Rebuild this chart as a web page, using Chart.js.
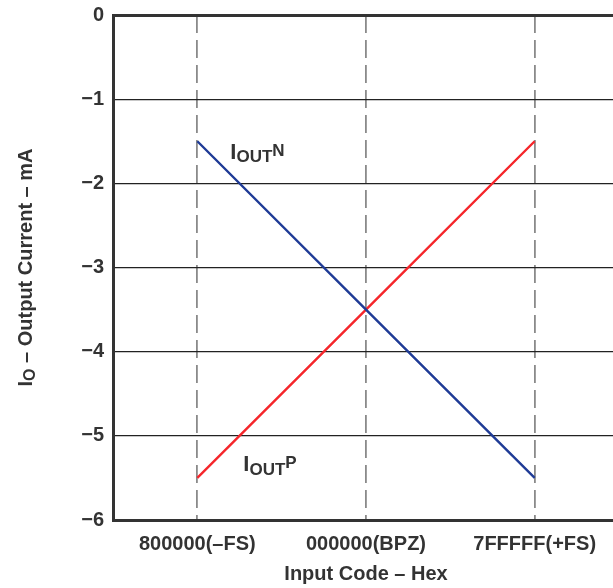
<!DOCTYPE html>
<html>
<head>
<meta charset="utf-8">
<script src="https://cdn.jsdelivr.net/npm/chart.js@4.4.1/dist/chart.umd.min.js"></script>
<style>
  html, body { margin: 0; padding: 0; background: #fff; overflow: hidden; }
  #wrap { width: 625px; height: 588px; position: relative; }
</style>
</head>
<body>
<div id="wrap"><canvas id="chart"></canvas></div>
<script>
// input codes along the x axis
const codes = ['800000(\u2013FS)', '000000(BPZ)', '7FFFFF(+FS)'];
// output currents, mA
const ioutN = [-1.5, -3.5, -5.5];
const ioutP = [-5.5, -3.5, -1.5];
// y axis range
const yMin = -6;
const yMax = 0;

const TEXT = '#333';
const FONT = '"Liberation Sans", Arial, sans-serif';

// draws text made of pieces with their own size and vertical shift
function drawParts(ctx, parts, x, y) {
  let cx = x;
  parts.forEach(p => {
    ctx.font = 'bold ' + p.size + 'px ' + FONT;
    ctx.fillText(p.t, cx, y + (p.dy || 0));
    cx += ctx.measureText(p.t).width;
  });
  return cx - x;
}
function partsWidth(ctx, parts) {
  let w = 0;
  parts.forEach(p => {
    ctx.font = 'bold ' + p.size + 'px ' + FONT;
    w += ctx.measureText(p.t).width;
  });
  return w;
}

const labelsPlugin = {
  id: 'labels',
  afterDraw(chart) {
    const ctx = chart.ctx;
    const xs = chart.scales.x, ys = chart.scales.y;
    ctx.save();
    ctx.fillStyle = TEXT;
    ctx.textAlign = 'left';
    ctx.textBaseline = 'alphabetic';

    // series labels
    drawParts(ctx, [
      { t: 'I', size: 22 },
      { t: 'OUT', size: 17, dy: 3 },
      { t: 'N', size: 17, dy: -3 }
    ], xs.getPixelForValue(0) + 33, ys.getPixelForValue(-1.71));
    drawParts(ctx, [
      { t: 'I', size: 22 },
      { t: 'OUT', size: 17, dy: 4 },
      { t: 'P', size: 17, dy: -3 }
    ], xs.getPixelForValue(0) + 46, ys.getPixelForValue(-5.42));

    // x title
    ctx.font = 'bold 20px ' + FONT;
    ctx.textAlign = 'center';
    ctx.fillText('Input Code \u2013 Hex', xs.getPixelForValue(1), 580);

    // y title (rotated)
    const yt = [
      { t: 'I', size: 20 },
      { t: 'O', size: 16, dy: 3 },
      { t: ' \u2013 Output Current \u2013 mA', size: 20 }
    ];
    const cy = (chart.chartArea.top + chart.chartArea.bottom) / 2;
    ctx.translate(32, cy);
    ctx.rotate(-Math.PI / 2);
    ctx.textAlign = 'left';
    drawParts(ctx, yt, -partsWidth(ctx, yt) / 2, 0);
    ctx.restore();
  }
};

new Chart(document.getElementById('chart'), {
  type: 'line',
  data: {
    labels: codes,
    datasets: [
      { label: 'IOUTN', data: ioutN, borderColor: '#1f3b96', borderWidth: 2.4, pointRadius: 0, tension: 0 },
      { label: 'IOUTP', data: ioutP, borderColor: '#f5262b', borderWidth: 2.4, pointRadius: 0, tension: 0 }
    ]
  },
  options: {
    responsive: true,
    maintainAspectRatio: false,
    animation: false,
    devicePixelRatio: 1,
    layout: { padding: { top: 15, right: 6, left: 0, bottom: 0 } },
    plugins: { legend: { display: false }, tooltip: { enabled: false } },
    scales: {
      x: {
        type: 'category',
        offset: true,
        grid: { color: '#8a8a8a', lineWidth: 1.8, drawTicks: false },
        border: { display: true, color: '#333', width: 3, dash: [18, 7] },
        ticks: { color: TEXT, font: { family: FONT, size: 20, weight: 'bold' }, padding: 12, maxRotation: 0 },
        afterFit(scale) { scale.height = 68; scale.paddingLeft = 0; scale.paddingRight = 0; }
      },
      y: {
        min: yMin,
        max: yMax,
        grid: {
          color: ctx => (ctx.tick && (ctx.tick.value === yMin || ctx.tick.value === yMax)) ? '#333' : '#222',
          lineWidth: ctx => (ctx.tick && (ctx.tick.value === yMin || ctx.tick.value === yMax)) ? 3 : 1.2,
          drawTicks: false
        },
        border: { display: true, color: '#333', width: 3 },
        ticks: {
          stepSize: 1,
          color: TEXT,
          font: { family: FONT, size: 20, weight: 'bold' },
          padding: 9,
          callback: v => v < 0 ? '\u2212' + Math.abs(v) : String(v)
        },
        afterFit(scale) { scale.width = 113; scale.paddingTop = 0; scale.paddingBottom = 0; }
      }
    }
  },
  plugins: [labelsPlugin]
});
</script>
</body>
</html>
